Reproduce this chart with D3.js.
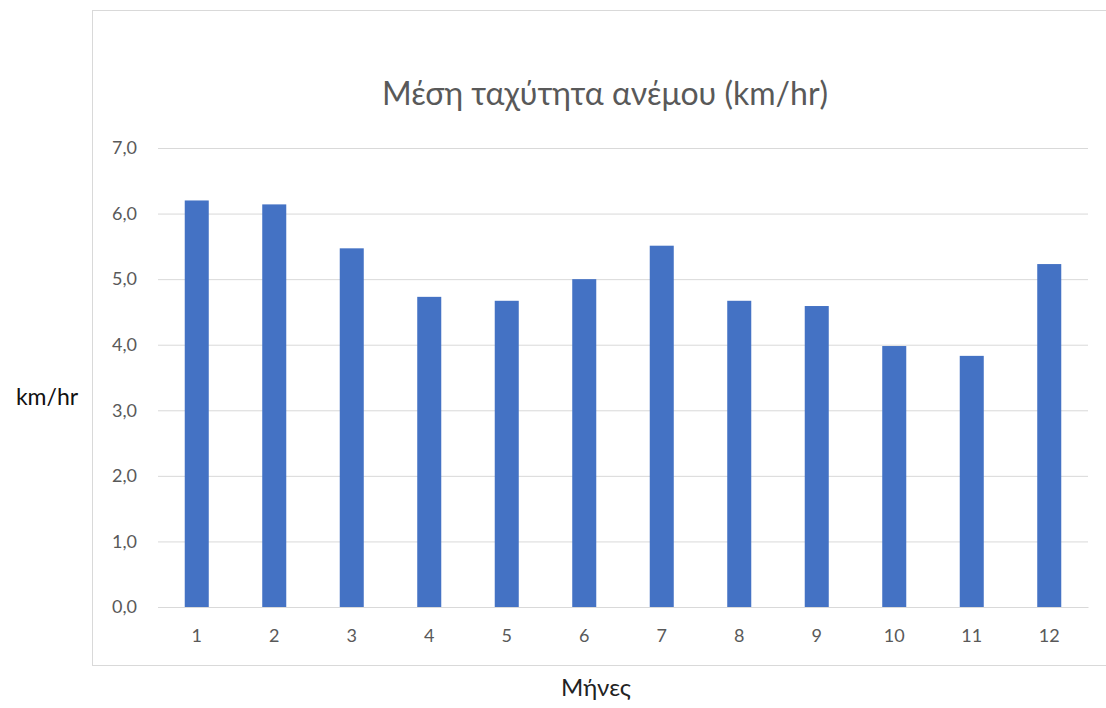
<!DOCTYPE html>
<html>
<head>
<meta charset="utf-8">
<script src="https://cdn.jsdelivr.net/npm/d3@7"></script>
<style>
  body { margin: 0; background: #fff; }
  text { font-family: Lato, "Open Sans", sans-serif; }
</style>
</head>
<body>
<svg id="chart"></svg>
<script>
// data
var months = ["1", "2", "3", "4", "5", "6", "7", "8", "9", "10", "11", "12"];
var windSpeed = [6.20, 6.14, 5.47, 4.73, 4.67, 5.00, 5.51, 4.67, 4.59, 3.98, 3.83, 5.23];
var yTicks = [0, 1, 2, 3, 4, 5, 6, 7];

var width = 1106;
var height = 708;
var plotLeft = 158, plotRight = 1088, plotTop = 148, plotBottom = 607;

var svg = d3.select("#chart")
            .attr("width", width)
            .attr("height", height);

// chart frame
svg.append("rect")
    .attr("x", 92.5)
    .attr("y", 10.5)
    .attr("width", 1030)
    .attr("height", 655)
    .attr("fill", "#fff")
    .attr("stroke", "#d9d9d9");

var xScale = d3.scaleBand()
                .domain(months)
                .range([plotLeft, plotRight])
                .paddingInner(0.69)
                .paddingOuter(0.345);

var yScale = d3.scaleLinear()
                .domain([0, 7])
                .range([plotBottom, plotTop]);

var fmt = function(d){ return d3.format(".1f")(d).replace(".", ","); };

// gridlines + y labels
var yAxis = d3.axisLeft(yScale)
                .tickValues(yTicks)
                .tickSize(-(plotRight - plotLeft))
                .tickSizeOuter(0)
                .tickPadding(21)
                .tickFormat(fmt);

var gy = svg.append("g")
    .attr("transform", "translate(" + plotLeft + ",0)")
    .call(yAxis);
gy.select(".domain").remove();
gy.selectAll("line").attr("stroke", "#d9d9d9");
gy.selectAll("text")
    .attr("fill", "#595959")
    .style("font-size", "18px");

// bars
svg.selectAll(".bar")
  .data(windSpeed)
  .enter()
  .append("rect")
    .classed("bar", true)
    .attr("x", (d, i) => xScale(months[i]))
    .attr("y", d => yScale(d))
    .attr("width", xScale.bandwidth())
    .attr("height", d => plotBottom - yScale(d))
    .attr("fill", "#4472c4");

// x axis
var xAxis = d3.axisBottom(xScale)
                .tickSize(0)
                .tickPadding(22);

var gx = svg.append("g")
    .attr("transform", "translate(0," + plotBottom + ")")
    .call(xAxis);
gx.select(".domain").attr("stroke", "#d9d9d9");
gx.selectAll("text")
    .attr("fill", "#595959")
    .style("font-size", "18px");

// title
svg.append("text")
    .attr("x", 605)
    .attr("y", 105)
    .style("text-anchor", "middle")
    .style("font-size", "32px")
    .attr("fill", "#595959")
    .text("Μέση ταχύτητα ανέμου (km/hr)");

// axis titles
svg.append("text")
    .attr("x", 47)
    .attr("y", 405)
    .style("text-anchor", "middle")
    .style("font-size", "23px")
    .attr("fill", "#111")
    .text("km/hr");

svg.append("text")
    .attr("x", 596)
    .attr("y", 696)
    .style("text-anchor", "middle")
    .style("font-size", "24px")
    .attr("fill", "#222")
    .text("Μήνες");
</script>
</body>
</html>
